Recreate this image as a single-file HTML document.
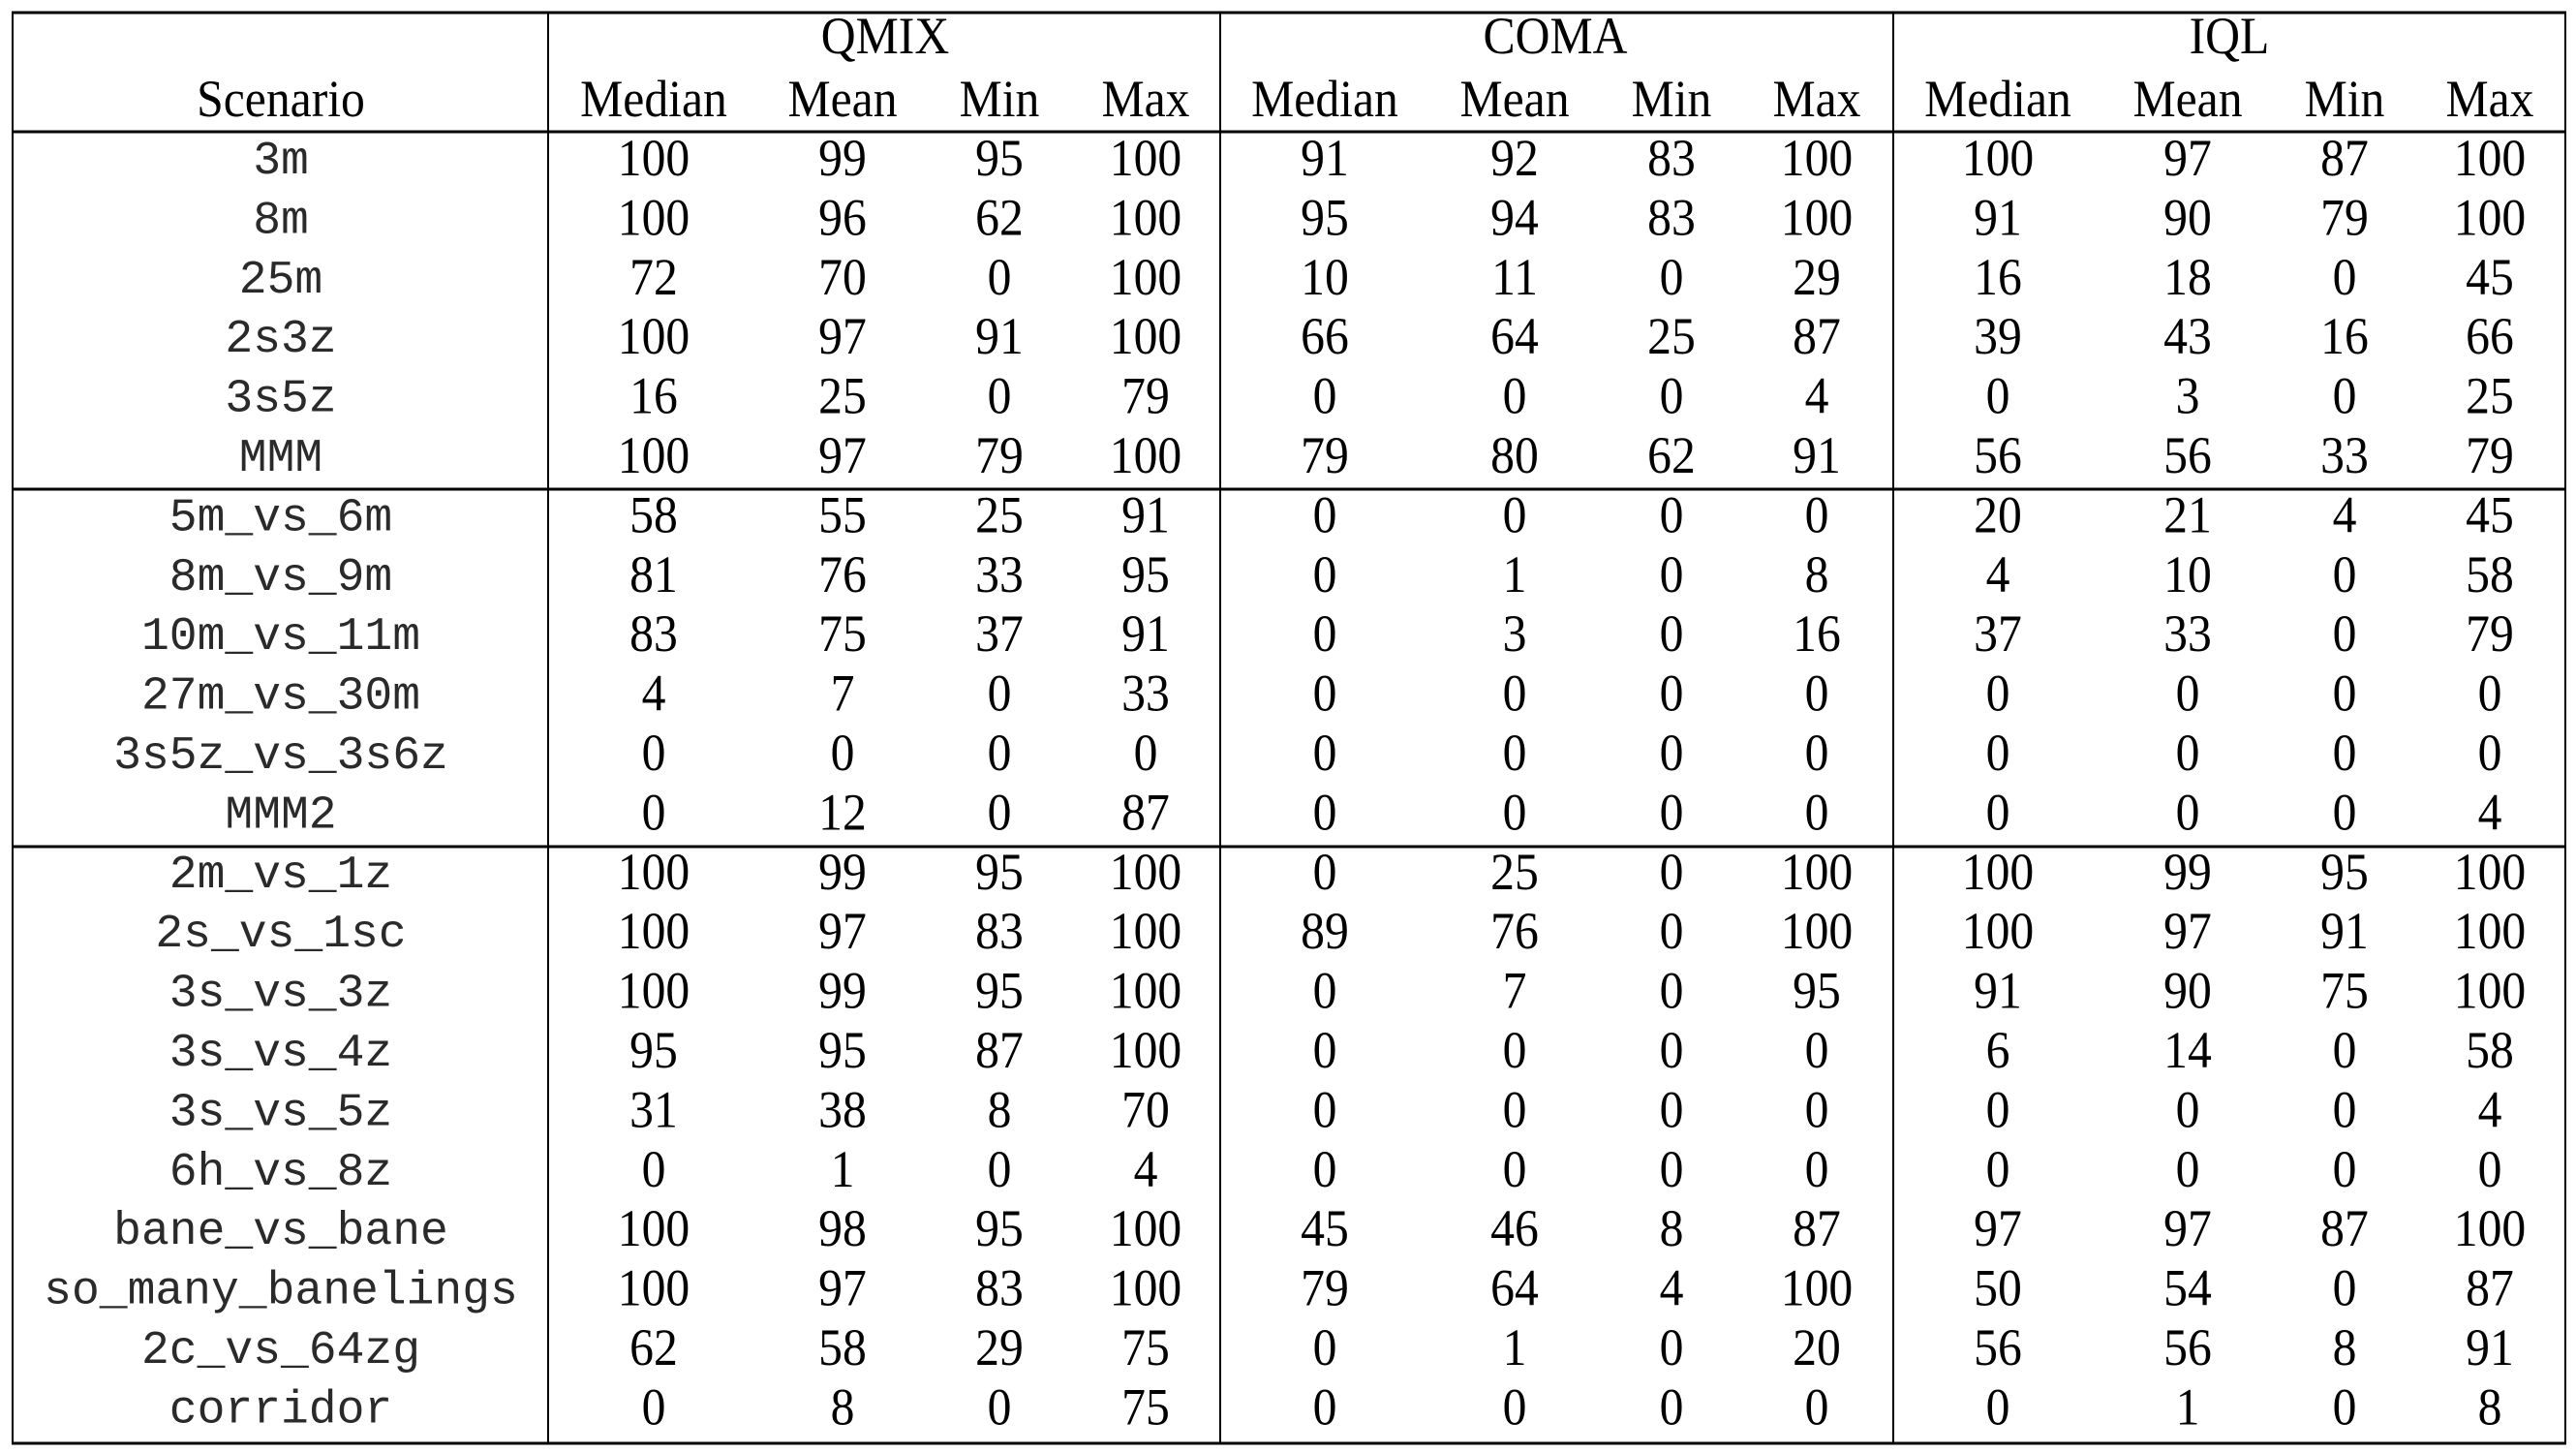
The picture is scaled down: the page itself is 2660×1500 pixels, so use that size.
<!DOCTYPE html>
<html><head><meta charset="utf-8"><style>
html,body{margin:0;padding:0;background:#fff;width:2660px;height:1500px;overflow:hidden}
svg{display:block}
.t{font-family:"Liberation Serif",serif;font-size:54px;fill:#000}
.m{font-family:"Liberation Mono",monospace;font-size:48px;fill:#2a2a2a}
</style></head><body>
<svg id="tbl" width="2660" height="1500" viewBox="0 0 2660 1500" xmlns="http://www.w3.org/2000/svg"></svg>
<script>
const scenarios=["3m","8m","25m","2s3z","3s5z","MMM","5m_vs_6m","8m_vs_9m","10m_vs_11m","27m_vs_30m","3s5z_vs_3s6z","MMM2","2m_vs_1z","2s_vs_1sc","3s_vs_3z","3s_vs_4z","3s_vs_5z","6h_vs_8z","bane_vs_bane","so_many_banelings","2c_vs_64zg","corridor"];
const groups=["QMIX","COMA","IQL"];
const stats=["Median","Mean","Min","Max"];
const qmix=[[100,99,95,100],[100,96,62,100],[72,70,0,100],[100,97,91,100],[16,25,0,79],[100,97,79,100],[58,55,25,91],[81,76,33,95],[83,75,37,91],[4,7,0,33],[0,0,0,0],[0,12,0,87],[100,99,95,100],[100,97,83,100],[100,99,95,100],[95,95,87,100],[31,38,8,70],[0,1,0,4],[100,98,95,100],[100,97,83,100],[62,58,29,75],[0,8,0,75]];
const coma=[[91,92,83,100],[95,94,83,100],[10,11,0,29],[66,64,25,87],[0,0,0,4],[79,80,62,91],[0,0,0,0],[0,1,0,8],[0,3,0,16],[0,0,0,0],[0,0,0,0],[0,0,0,0],[0,25,0,100],[89,76,0,100],[0,7,0,95],[0,0,0,0],[0,0,0,0],[0,0,0,0],[45,46,8,87],[79,64,4,100],[0,1,0,20],[0,0,0,0]];
const iql=[[100,97,87,100],[91,90,79,100],[16,18,0,45],[39,43,16,66],[0,3,0,25],[56,56,33,79],[20,21,4,45],[4,10,0,58],[37,33,0,79],[0,0,0,0],[0,0,0,0],[0,0,0,4],[100,99,95,100],[100,97,91,100],[91,90,75,100],[6,14,0,58],[0,0,0,4],[0,0,0,0],[97,97,87,100],[50,54,0,87],[56,56,8,91],[0,1,0,8]];
const NS="http://www.w3.org/2000/svg";
const svg=document.getElementById('tbl');
const colX=[[675,870,1032,1183],[1368,1564,1726,1876],[2063,2259,2421,2571]];
const groupX=[914,1606,2302];
function rowY(i){return 163+i*61.4+18;}
function txt(x,y,s,cls,name){const t=document.createElementNS(NS,'text');t.setAttribute('x',x);t.setAttribute('y',y);t.setAttribute('text-anchor','middle');t.setAttribute('class',cls);


if(cls==='t'){t.setAttribute('transform','translate('+x+',0) scale(0.92,1) translate('+(-x)+',0)');}
t.textContent=s;svg.appendChild(t);return t;}
function line(x1,y1,x2,y2,w,name){const l=document.createElementNS(NS,'line');l.setAttribute('x1',x1);l.setAttribute('y1',y1);l.setAttribute('x2',x2);l.setAttribute('y2',y2);l.setAttribute('stroke','#000');l.setAttribute('stroke-width',w);


svg.appendChild(l);}
line(12,13,2650,13,3,'top-rule');
line(12,136,2650,136,3,'header-rule');
line(12,505,2650,505,3,'group-separator-1');
line(12,874,2650,874,3,'group-separator-2');
line(12,1490,2650,1490,3,'bottom-rule');
line(13,12,13,1491,2,'left-border');
line(2649,12,2649,1491,2,'right-border');
[566,1260,1955].forEach((x,i)=>line(x,12,x,1491,2,'column-divider-'+(i+1)));
txt(290,120,'Scenario','t','scenario-header');
groups.forEach((g,gi)=>{txt(groupX[gi],55,g,'t',g.toLowerCase()+'-header');
stats.forEach((s,si)=>txt(colX[gi][si],120,s,'t',g.toLowerCase()+'-'+s.toLowerCase()+'-header'));});
const data=[qmix,coma,iql];
scenarios.forEach((sc,i)=>{const y=rowY(i);
txt(290,y-2,sc,'m','scenario-'+sc.replace(/_/g,'-').toLowerCase());
data.forEach((d,gi)=>d[i].forEach((v,si)=>txt(colX[gi][si],y,String(v),'t',groups[gi].toLowerCase()+'-'+stats[si].toLowerCase()+'-cell')));});
</script>
</body></html>
